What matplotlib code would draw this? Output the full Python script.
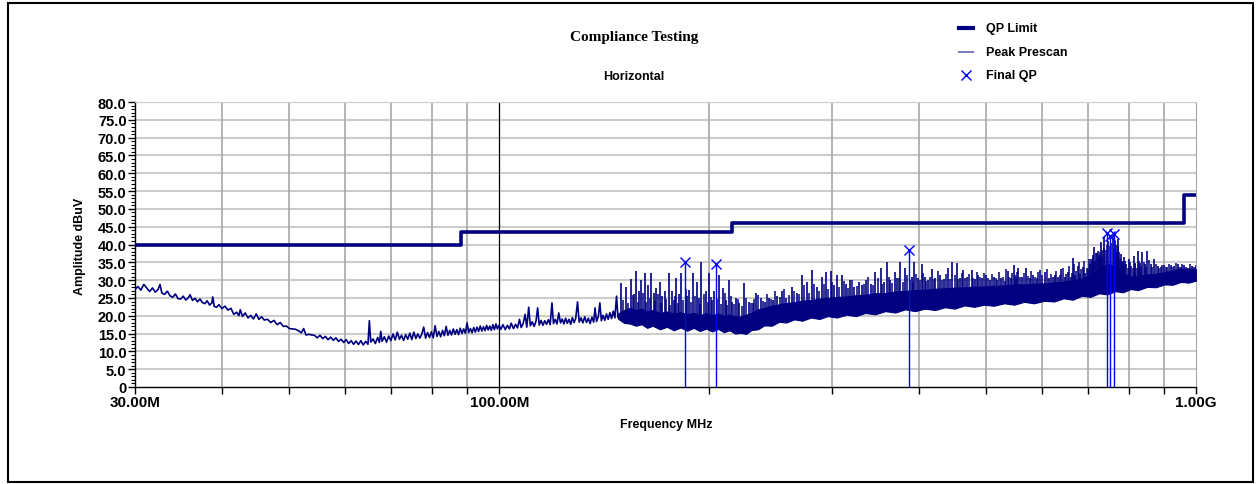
import numpy as np
import matplotlib
matplotlib.use('Agg')
import matplotlib.pyplot as plt
from matplotlib.lines import Line2D
from matplotlib.patches import Rectangle
from matplotlib.ticker import FixedLocator, NullFormatter, MultipleLocator

plt.rcParams['font.family'] = ['Liberation Sans', 'DejaVu Sans']
plt.rcParams['font.weight'] = 'bold'

# QP limit (step edges, MHz / dBuV)
limit_freq = [30, 88, 216, 960, 1000]
limit_amp = [40.0, 43.5, 46.0, 54.0, 54.0]

# Peak prescan, 30 - 148 MHz (single trace)
trace_freq = [30.0, 30.3, 30.6, 30.9, 31.2, 31.5, 31.8, 32.1, 32.4, 32.6, 32.8, 33.1, 33.4, 33.7,
              34.0, 34.3, 34.6, 34.9, 35.2, 35.5, 35.8, 36.0, 36.3, 36.6, 36.9, 37.2, 37.5, 37.8,
              38.1, 38.4, 38.7, 38.8, 39.0, 39.3, 39.6, 40.0, 40.4, 40.8, 41.2, 41.6, 42.0, 42.3,
              42.5, 42.8, 43.2, 43.6, 44.0, 44.4, 44.8, 45.2, 45.6, 46.0, 46.5, 47.0, 47.5, 48.0,
              48.5, 49.0, 49.5, 50.0, 50.5, 51.0, 51.5, 52.0, 52.4, 52.8, 53.3, 53.8, 54.3, 54.8,
              55.3, 55.8, 56.3, 56.8, 57.3, 57.8, 58.3, 58.8, 59.3, 59.8, 60.3, 60.8, 61.3, 61.8,
              62.3, 62.8, 63.3, 63.8, 64.3, 64.8, 65.1, 65.4, 65.9, 66.4, 66.9, 67.3, 67.6, 67.9,
              68.4, 68.9, 69.4, 69.9, 70.4, 70.9, 71.4, 71.9, 72.4, 72.9, 73.4, 73.9, 74.4, 74.9,
              75.4, 75.9, 76.4, 76.9, 77.4, 77.9, 78.4, 78.9, 79.4, 79.9, 80.4, 80.9, 81.4, 81.9,
              82.4, 82.9, 83.4, 83.9, 84.4, 84.9, 85.4, 85.9, 86.4, 86.9, 87.4, 87.9, 88.4, 88.9,
              89.4, 89.9, 90.4, 90.9, 91.4, 91.9, 92.4, 92.9, 93.4, 93.9, 94.4, 94.9, 95.4, 95.9,
              96.4, 96.9, 97.4, 97.9, 98.4, 98.9, 99.4, 99.9, 100.5, 101.2, 102.0, 102.7, 103.4,
              104.0, 104.8, 105.5, 106.2, 106.9, 107.5, 108.2, 108.9, 109.5, 110.2, 110.8, 111.5,
              112.2, 112.9, 113.5, 114.1, 114.8, 115.5, 116.2, 116.9, 117.6, 118.3, 119.0, 119.6,
              120.3, 121.0, 121.7, 122.4, 123.1, 123.8, 124.5, 125.2, 125.9, 126.6, 127.3, 128.0,
              128.7, 129.5, 130.2, 131.0, 131.8, 132.6, 133.4, 134.2, 135.0, 135.8, 136.6, 137.2,
              137.9, 138.7, 139.4, 140.1, 140.9, 141.7, 142.5, 143.3, 144.1, 144.9, 145.7, 146.5,
              147.3, 148.0]
trace_amp = [27.3, 28.2, 27.2, 28.8, 27.8, 26.8, 27.8, 26.6, 27.4, 28.8, 26.4, 26.0, 26.9, 25.6,
             25.2, 26.1, 24.8, 24.7, 25.5, 24.4, 25.1, 25.9, 24.3, 24.9, 23.9, 24.7, 23.7, 23.4,
             24.2, 23.0, 23.6, 25.3, 22.6, 22.4, 23.1, 22.0, 22.7, 21.6, 22.1, 20.4, 21.0, 20.0,
             21.7, 19.8, 20.8, 19.4, 20.1, 19.1, 20.5, 19.0, 19.7, 18.8, 19.0, 18.1, 18.7, 17.5,
             18.1, 17.0, 17.1, 16.4, 16.3, 16.2, 15.8, 15.2, 16.4, 14.6, 14.8, 14.6, 14.5, 13.8,
             14.5, 13.6, 14.2, 13.3, 14.0, 13.1, 13.8, 12.8, 13.4, 12.5, 13.3, 12.2, 13.0, 12.0,
             12.9, 11.9, 13.0, 11.8, 12.8, 12.0, 18.6, 12.6, 13.5, 12.2, 13.9, 12.5, 15.6, 12.8,
             14.1, 12.6, 14.3, 13.0, 14.9, 13.2, 15.4, 13.4, 14.5, 13.1, 14.7, 13.4, 15.1, 13.3,
             15.4, 13.6, 14.9, 13.7, 14.8, 16.8, 13.7, 15.3, 13.9, 15.5, 13.8, 17.2, 14.2, 15.6,
             14.1, 15.9, 14.4, 17.0, 14.5, 15.9, 14.6, 16.3, 14.8, 16.1, 14.7, 16.5, 15.0, 16.3,
             15.1, 18.0, 15.3, 16.4, 15.2, 16.7, 15.4, 16.8, 15.6, 17.1, 15.7, 16.9, 15.8, 17.3,
             16.0, 17.1, 15.9, 17.5, 16.1, 17.7, 16.3, 17.3, 16.2, 17.5, 16.1, 17.3, 16.3,
             17.9, 16.4, 17.6, 16.6, 19.0, 16.7, 17.8, 20.4, 16.8, 22.4, 17.2, 18.3,
             17.0, 18.5, 22.2, 17.4, 18.7, 17.3, 18.6, 17.6, 18.9, 17.5, 23.6, 17.8,
             19.0, 17.7, 20.8, 18.0, 19.1, 17.7, 19.3, 17.9, 19.0, 17.6, 19.5, 18.1,
             19.2, 23.9, 18.2, 19.4, 18.0, 19.7, 18.1, 19.3, 17.8, 19.6, 18.2, 22.2,
             18.4, 19.8, 23.6, 18.6, 20.1, 18.7, 20.5, 19.0, 20.9, 19.2, 21.3, 19.4,
             25.5, 19.6]

# Peak prescan, 148 - 1000 MHz (dense band: lower / upper edge)
band_freq = [148, 151, 154, 157, 160, 163, 166, 170, 174, 178, 182, 186, 190, 194, 198, 202, 206,
             210, 214, 218, 222, 226, 230, 235, 240, 246, 252, 258, 265, 272, 280, 288, 296, 305,
             315, 325, 335, 346, 358, 370, 382, 395, 408, 422, 436, 450, 465, 480, 496, 512, 530,
             548, 566, 585, 605, 625, 645, 665, 685, 705, 725, 745, 765, 785, 805, 825, 850, 875,
             900, 925, 950, 975, 1000]
band_low = [19.2, 18.0, 17.8, 17.2, 17.6, 16.6, 17.2, 16.2, 16.9, 15.9, 16.7, 15.8, 16.6, 15.7,
            16.4, 15.6, 16.3, 15.4, 15.9, 15.0, 15.2, 14.9, 16.0, 16.2, 17.3, 17.2, 18.3, 18.1,
            19.0, 18.6, 19.5, 19.1, 19.9, 19.5, 20.3, 19.9, 20.8, 20.4, 21.3, 20.9, 21.8, 21.3,
            22.0, 21.6, 22.4, 22.0, 22.9, 22.5, 23.1, 22.8, 23.5, 23.1, 23.9, 23.5, 24.2, 24.0,
            24.9, 24.5, 25.6, 25.3, 26.3, 26.0, 26.9, 26.6, 27.5, 27.2, 28.1, 28.0, 28.8, 28.7,
            29.5, 29.3, 29.9]
band_high = [20.6, 21.6, 22.2, 21.6, 22.0, 21.2, 21.6, 20.8, 21.2, 20.6, 21.0, 20.4, 20.8, 20.2,
             20.7, 20.2, 20.6, 20.0, 20.3, 19.8, 19.8, 20.3, 20.8, 21.8, 22.2, 22.8, 23.2, 23.6,
             23.8, 24.3, 24.4, 24.8, 25.0, 25.3, 25.4, 25.8, 25.9, 26.3, 26.4, 26.8, 27.0, 27.2,
             27.3, 27.6, 27.7, 27.9, 28.0, 28.2, 28.2, 28.4, 28.5, 28.8, 28.8, 29.0, 29.1, 29.4,
             29.6, 30.0, 30.4, 31.5, 33.0, 34.5, 34.0, 32.0, 31.0, 31.2, 31.6, 31.8, 32.2, 32.8,
             33.2, 33.3, 33.0]

# Peak prescan: tall spikes above the band
spike_freq = [149.7, 152.2, 154.7, 156.0, 157.3, 158.6, 159.9, 161.7, 163.4, 165.2, 166.5, 168.0,
              169.8, 171.0, 172.6, 174.9, 177.0, 178.2, 179.4, 181.0, 182.4, 186.0, 187.4, 189.9,
              192.0, 193.5, 195.0, 198.0, 200.2, 202.0, 203.5, 206.9, 209.1, 211.5, 213.8, 216.0,
              218.5, 221.0, 224.6, 228.0, 231.0, 233.4, 237.2, 240.5, 243.8, 247.0, 250.5, 254.8,
              258.0, 263.3, 267.0, 271.6, 276.6, 281.2, 285.5, 290.6, 294.5, 298.7, 302.0, 305.3,
              310.3, 314.5, 318.9, 323.0, 328.0, 331.5, 335.9, 341.0, 346.3, 352.7, 356.0, 359.8,
              364.0, 369.0, 372.5, 376.0, 382.3, 390.5, 394.1, 398.5, 403.8, 408.0, 412.0, 417.3,
              422.5, 428.9, 434.5, 440.8, 446.6, 453.0, 458.0, 463.1, 469.5, 476.0, 481.0, 486.6,
              492.5, 498.9, 505.5, 512.8, 518.5, 525.2, 531.0, 537.0, 542.0, 547.2, 551.0, 555.0,
              562.5, 570.4, 577.0, 583.2, 590.0, 596.2, 606.0, 614.0, 622.7, 626.0, 633.0, 640.0,
              647.0, 654.0, 660.0, 665.0, 670.0, 676.0, 681.5, 687.0, 693.0, 699.0, 703.0, 706.4,
              710.0, 714.3, 718.0, 722.0, 726.0, 729.9, 733.0, 738.0, 748.0, 758.5, 766.0, 771.0,
              775.0, 779.5, 784.0, 788.0, 794.0, 801.0, 807.0, 812.7, 818.0, 825.2, 831.0, 837.0,
              844.0, 851.0, 860.0, 870.0, 880.0, 889.0, 899.0, 909.0, 919.0, 929.0, 940.0, 950.0,
              960.0, 971.0, 985.0, 995.0]
spike_amp = [29.2, 28.0, 30.4, 26.0, 32.6, 27.0, 30.1, 32.0, 28.7, 32.0, 26.5, 27.8,
             29.6, 25.5, 26.9, 32.0, 26.9, 24.5, 30.6, 26.0, 32.0, 25.5, 27.3, 32.0,
             29.6, 25.0, 35.0, 26.9, 32.0, 24.5, 27.0, 31.5, 27.8, 24.5, 30.1, 24.0,
             25.0, 23.5, 29.2, 24.0, 23.5, 26.4, 25.0, 23.8, 25.0, 24.5, 25.5, 26.9,
             25.0, 28.2, 26.5, 31.5, 29.6, 32.9, 28.0, 31.0, 32.4, 32.6, 28.5, 31.5,
             31.5, 28.8, 30.1, 28.0, 29.6, 28.5, 30.1, 29.0, 32.4, 33.5, 29.5, 35.0,
             30.0, 32.2, 30.5, 35.2, 33.5, 31.0, 35.0, 30.5, 34.4, 31.0, 30.0, 33.1,
             30.5, 31.5, 30.2, 33.5, 35.0, 34.9, 30.5, 32.9, 30.8, 32.9, 30.2, 31.5,
             30.5, 31.3, 30.0, 31.0, 30.0, 30.6, 29.8, 32.6, 30.5, 34.3, 30.8, 33.3,
             31.0, 33.3, 30.6, 31.5, 30.5, 32.9, 32.4, 30.5, 31.0, 31.3, 30.8, 33.2,
             31.0, 32.3, 31.0, 36.1, 31.5, 34.1, 31.8, 33.7, 32.0, 33.2, 34.5, 36.0,
             37.0, 39.2, 37.5, 38.3, 37.0, 40.6, 38.5, 42.0, 41.0, 42.5, 40.0, 41.6,
             38.0, 37.4, 35.5, 36.5, 34.5, 36.0, 34.0, 36.8, 34.5, 38.3, 34.8, 38.0,
             34.5, 38.3, 34.5, 36.0, 34.0, 33.7, 34.3, 33.7, 34.2, 34.0, 34.4, 33.7,
             34.2, 33.4, 34.0, 33.6]

# Peak prescan: shorter spikes forming the fringe of the band
fuzz_freq = [150.5, 153.0, 155.5, 158.0, 160.8, 162.5, 164.3, 167.0, 169.0, 170.5, 173.5, 176.0,
             178.8, 180.5, 183.5, 185.0, 188.5, 191.0, 194.0, 196.5, 199.0, 201.0, 205.0, 208.0,
             210.5, 212.5, 215.0, 217.0, 220.0, 223.0, 226.0, 229.5, 232.0, 235.0, 239.0, 242.0,
             245.5, 249.0, 252.5, 256.5, 260.5, 265.0, 269.5, 274.0, 278.5, 283.0, 288.0, 292.5,
             296.5, 300.5, 307.5, 312.5, 316.5, 321.0, 325.5, 333.5, 338.5, 343.5, 349.5, 354.5,
             362.0, 366.5, 374.5, 379.0, 385.0, 388.0, 392.0, 396.5, 401.0, 406.0, 410.0, 414.5,
             420.0, 425.5, 431.5, 437.5, 443.5, 450.0, 455.5, 460.5, 466.5, 472.5, 478.5, 484.0,
             489.5, 495.5, 502.0, 509.0, 515.5, 521.5, 528.0, 534.0, 539.5, 544.5, 549.0, 553.0,
             558.5, 566.5, 573.5, 580.0, 586.5, 593.0, 600.0, 610.0, 618.0, 630.0, 636.5, 643.5,
             650.5, 657.0, 662.5, 667.5, 673.0, 678.5, 684.0, 690.0, 696.0, 701.0, 708.0, 712.0,
             716.0, 720.0, 724.0, 728.0, 731.5, 736.0, 741.0, 744.0, 751.0, 755.0, 761.0, 764.0,
             768.5, 773.0, 777.0, 781.5, 786.0, 791.0, 797.0, 804.0, 810.0, 815.5, 821.5, 828.0,
             834.0, 840.5, 847.5, 855.5, 865.0, 875.0, 884.5, 894.0, 904.0, 914.0, 924.0, 934.5,
             945.0, 955.0, 965.5, 978.0, 990.0, 998.0]
fuzz_amp = [24.5, 23.5, 25.8, 24.0, 26.5, 23.8, 25.0, 24.2, 26.0, 23.5, 24.8, 23.0,
            25.6, 23.6, 24.4, 27.5, 24.0, 25.5, 23.2, 26.0, 23.8, 25.2, 24.6, 23.2,
            26.5, 23.0, 25.5, 23.2, 24.8, 22.8, 25.0, 23.6, 24.6, 25.8, 24.2, 26.0,
            24.8, 27.0, 25.4, 27.5, 25.8, 27.0, 26.2, 28.5, 26.5, 29.0, 27.0, 28.8,
            27.6, 29.5, 28.0, 29.8, 27.8, 30.0, 28.4, 29.0, 31.0, 28.6, 30.5, 29.0,
            31.0, 29.2, 30.5, 29.6, 31.5, 30.0, 29.5, 31.8, 30.0, 32.0, 29.8, 31.0,
            30.2, 32.5, 30.0, 31.8, 30.4, 31.5, 30.2, 32.0, 30.5, 31.6, 30.6, 32.4,
            30.8, 32.0, 30.5, 31.8, 30.6, 32.2, 31.0, 33.0, 30.8, 32.0, 31.4, 32.2,
            31.0, 32.0, 31.2, 32.5, 31.0, 32.2, 31.5, 33.0, 31.6, 32.5, 31.4, 33.5,
            31.8, 34.0, 32.0, 34.5, 32.5, 35.0, 33.0, 35.5, 33.5, 36.0, 35.0, 36.5,
            35.5, 37.5, 36.0, 38.0, 36.5, 39.0, 38.5, 40.0, 39.5, 40.5, 39.0, 41.0,
            38.0, 39.5, 36.0, 35.0, 34.0, 35.5, 33.5, 35.0, 33.5, 34.8, 33.5, 35.5,
            33.6, 35.0, 33.8, 35.6, 33.8, 34.5, 33.5, 34.2, 33.8, 34.6, 33.6, 34.8,
            33.8, 34.6, 33.6, 34.6, 33.8, 34.2]

# Final QP measurements
qp_freq = [184.7, 204.4, 387.0, 744.4, 752.7, 762.7]
qp_amp = [35.1, 34.6, 38.5, 43.2, 42.3, 43.0]

y_ticks = [0, 5, 10, 15, 20, 25, 30, 35, 40, 45, 50, 55, 60, 65, 70, 75, 80]
x_major = [30, 100, 1000]
x_major_labels = ['30.00M', '100.00M', '1.00G']
x_minor = [40, 50, 60, 70, 80, 90, 200, 300, 400, 500, 600, 700, 800, 900]

navy = '#000080'
qp_blue = '#0000ff'

fig = plt.figure(figsize=(12.59, 4.85), dpi=100)
ax = fig.add_axes([0.1071, 0.2, 0.8431, 0.5876])
ax.set_xscale('log')
ax.set_xlim(30, 1000)
ax.set_ylim(0, 80)

# grid
for y in y_ticks[1:]:
    ax.axhline(y, color='#cccccc', lw=1.5, zorder=0)
for f in x_minor:
    ax.axvline(f, color='#a8a8a8', lw=1.2, zorder=0)
ax.axvline(100, color='black', lw=0.9, zorder=0)

# traces
ax.step(limit_freq, limit_amp, where='post', color=navy, lw=2.6, zorder=4)
ax.plot(trace_freq, trace_amp, color=navy, lw=1.2, zorder=3)
ax.fill_between(band_freq, band_low, band_high, color=navy, lw=0.8, zorder=3)
spike_base = np.interp(spike_freq, band_freq, band_low)
ax.vlines(spike_freq, spike_base, spike_amp, colors=navy, lw=1.2, zorder=3)
fuzz_base = np.interp(fuzz_freq, band_freq, band_low)
ax.vlines(fuzz_freq, fuzz_base, fuzz_amp, colors=navy, lw=1.1, zorder=3)

ax.vlines(qp_freq, 0, qp_amp, colors=qp_blue, lw=1.0, zorder=5)
ax.plot(qp_freq, qp_amp, 'x', color=qp_blue, ms=7, mew=1.0, zorder=6)

# axes / ticks
ax.xaxis.set_major_locator(FixedLocator(x_major))
ax.xaxis.set_major_formatter(plt.FixedFormatter(x_major_labels))
ax.xaxis.set_minor_locator(FixedLocator(x_minor))
ax.xaxis.set_minor_formatter(NullFormatter())
ax.tick_params(axis='x', which='both', direction='out', length=5, width=1, labelsize=11, pad=1)

ax.set_yticks(y_ticks)
ax.set_yticklabels(['0'] + [f'{v:.1f}' for v in y_ticks[1:]])
ax.yaxis.set_minor_locator(MultipleLocator(1))
ax.tick_params(axis='y', which='major', direction='out', length=5, width=1, labelsize=10.5, pad=1)
ax.tick_params(axis='y', which='minor', direction='out', length=3, width=0.8)

ax.spines['top'].set_color('#cccccc')
ax.spines['right'].set_color('#a8a8a8')
ax.spines['left'].set_linewidth(1.0)
ax.spines['bottom'].set_linewidth(1.0)

# texts
fig.text(0.5036, 0.9237, 'Compliance Testing', ha='center', va='center',
         family='Liberation Serif', fontsize=11, fontweight='bold')
fig.text(0.5036, 0.8412, 'Horizontal', ha='center', va='center', fontsize=9)
fig.text(0.529, 0.1237, 'Frequency MHz', ha='center', va='center', fontsize=9)
fig.text(0.0635, 0.4928, 'Amplitude dBuV', ha='center', va='center', rotation=90, fontsize=9)

# legend
leg_rows = [0.9402, 0.8907, 0.8433]
fig.add_artist(Line2D([0.7621, 0.7728], [leg_rows[0]] * 2, color=navy, lw=3, transform=fig.transFigure))
fig.add_artist(Line2D([0.7621, 0.7728], [leg_rows[1]] * 2, color='#7f7fbf', lw=1.5, transform=fig.transFigure))
fig.add_artist(Line2D([0.7675], [leg_rows[2]], marker='x', color=qp_blue, ms=7, mew=1.0,
                      lw=0, transform=fig.transFigure))
for row, label in zip(leg_rows, ['QP Limit', 'Peak Prescan', 'Final QP']):
    fig.text(0.7832, row, label, ha='left', va='center', fontsize=9)

# outer frame
fig.add_artist(Rectangle((0.0064, 0.004), 0.9889, 0.988, transform=fig.transFigure,
                         fill=False, edgecolor='black', lw=1.5))

fig.savefig('out.png', dpi=100)
